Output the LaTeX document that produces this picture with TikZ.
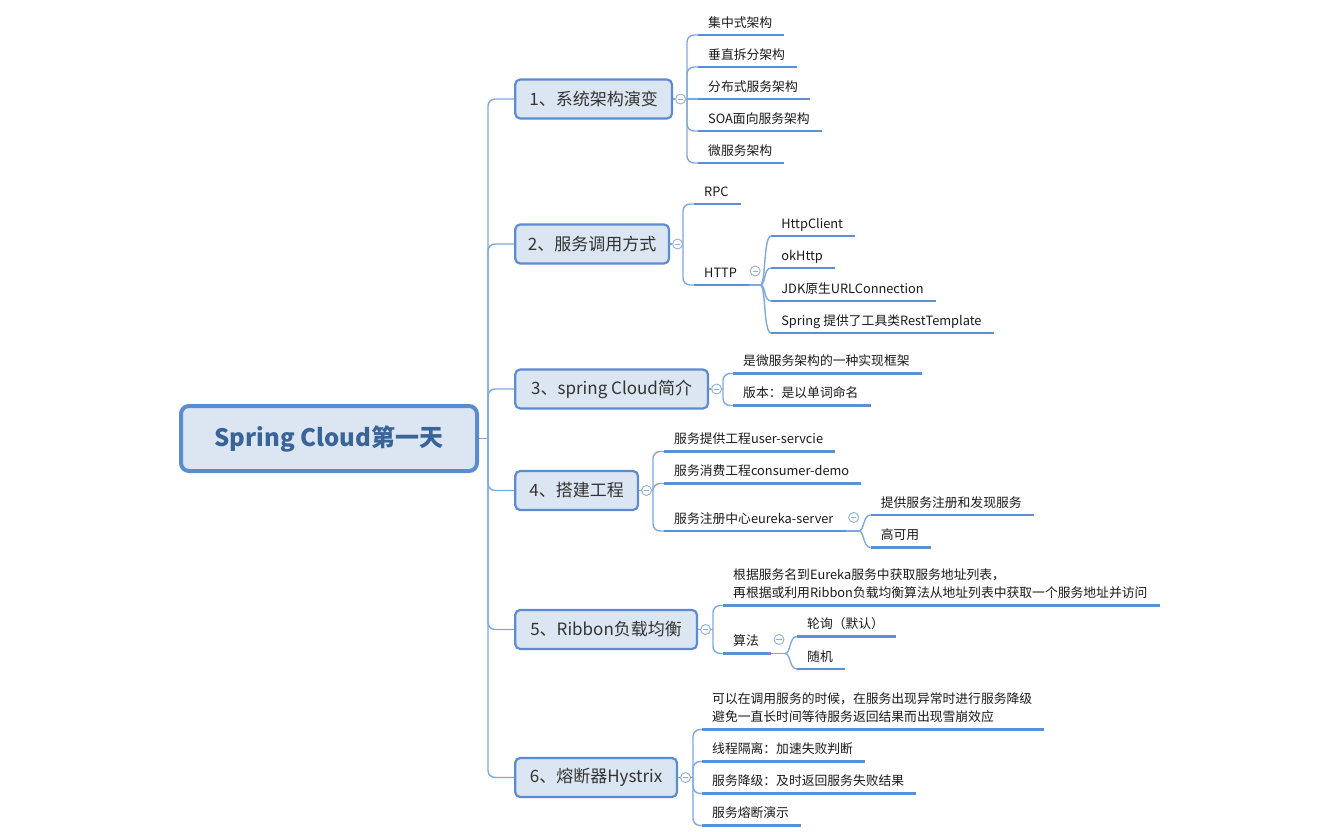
\documentclass[tikz,border=0pt]{standalone}
\usepackage{fontspec}
\setmainfont{Noto Sans CJK SC}
\usetikzlibrary{positioning,calc}

\definecolor{boxline}{HTML}{5B8BD3}
\definecolor{boxfill}{HTML}{DCE6F2}
\definecolor{roottext}{HTML}{3A6397}
\definecolor{topictext}{HTML}{333333}
\definecolor{ulblue}{HTML}{5B8FD6}
\definecolor{connblue}{HTML}{80A8E0}
\definecolor{foldblue}{HTML}{8EAEDC}

\begin{document}
\begin{tikzpicture}[x=1pt,y=-1pt]

    % Styles
    \tikzset{
        root/.style={draw=boxline, line width=4pt, fill=boxfill, rounded corners=8pt,
            minimum width=296pt, minimum height=65pt, inner sep=0pt,
            font=\fontsize{24}{29}\selectfont\bfseries, text=roottext},
        topic/.style={draw=boxline, line width=2.2pt, fill=boxfill, rounded corners=5pt,
            minimum height=39pt, inner sep=0pt, anchor=west,
            font=\fontsize{17}{21}\selectfont, text=topictext},
        uline/.style={draw=ulblue, line width=2.8pt},
        leafbase/.style={anchor=south west, inner xsep=10pt, inner ysep=5.5pt,
            font=\fontsize{12.8}{18}\selectfont, text=black!90,
            append after command={(\tikzlastnode.south west) edge[uline] ([xshift=2pt]\tikzlastnode.south east)}},
        leaf/.style={leafbase, text height=9pt, text depth=2pt},
        note/.style={leafbase, align=left, text depth=2pt},
        conn/.style={draw=connblue, line width=1.4pt, rounded corners=7pt},
        fold/.style={circle, draw=foldblue, fill=white, line width=0.9pt,
            minimum size=10pt, inner sep=0pt,
            path picture={\draw[foldblue, line width=0.9pt]
                ([xshift=-2.6pt]path picture bounding box.center) --
                ([xshift=2.6pt]path picture bounding box.center);}}
    }

    \useasboundingbox (0,0) rectangle (1344,832);

    % Root and topics
    \node[root] (sc) at (329,438.5) {Spring Cloud第一天};

    \node[topic, minimum width=156.8pt] (b1) at (514.1,99)    {1、系统架构演变};
    \node[topic, minimum width=153.8pt] (b2) at (514.1,244)   {2、服务调用方式};
    \node[topic, minimum width=192.8pt] (b3) at (514.1,389)   {3、spring Cloud简介};
    \node[topic, minimum width=122.8pt] (b4) at (514.1,490.5) {4、搭建工程};
    \node[topic, minimum width=181.8pt] (b5) at (514.1,629.5) {5、Ribbon负载均衡};
    \node[topic, minimum width=161.8pt] (b6) at (514.1,777.5) {6、熔断器Hystrix};

    % Fold marks
    \node[fold, right=2pt of b1] (m1) {};
    \node[fold, right=2pt of b2] (m2) {};
    \node[fold, right=2pt of b3] (m3) {};
    \node[fold, right=2pt of b4] (m4) {};
    \node[fold, right=2pt of b5] (m5) {};
    \node[fold, right=2pt of b6] (m6) {};

    % Coordinates
    \coordinate (t)  at ($(sc.east)+(9,0)$);   % trunk
    \coordinate (f1) at ($(m1.east)+(1,0)$);
    \coordinate (f2) at ($(m2.east)+(0,0)$);
    \coordinate (f3) at ($(m3.east)+(1,0)$);
    \coordinate (f4) at ($(m4.east)+(1,0)$);
    \coordinate (f5) at ($(m5.east)+(2,0)$);
    \coordinate (f6) at ($(m6.east)+(2,0)$);

    % 1
    \node[leaf] (l11) at ($(f1)+(11,-64)$) {集中式架构};
    \node[leaf] (l12) at ($(f1)+(11,-32)$) {垂直拆分架构};
    \node[leaf] (l13) at ($(f1)+(11,0)$)   {分布式服务架构};
    \node[leaf] (l14) at ($(f1)+(11,32)$)  {SOA面向服务架构};
    \node[leaf] (l15) at ($(f1)+(11,64)$)  {微服务架构};

    % 2
    \node[leaf] (l21) at ($(f2)+(11,-40)$) {RPC};
    \node[leaf] (l22) at ($(f2)+(11,41)$)  {HTTP};
    \node[fold] (mh) at ([xshift=8pt,yshift=14pt]l22.south east) {};
    \coordinate (fh) at ([xshift=13pt]l22.south east);
    \node[leaf] (l221) at ($(fh)+(11,-49)$) {HttpClient};
    \node[leaf] (l222) at ($(fh)+(11,-17)$) {okHttp};
    \node[leaf] (l223) at ($(fh)+(11,16)$)  {JDK原生URLConnection};
    \node[leaf] (l224) at ($(fh)+(11,48)$)  {Spring 提供了工具类RestTemplate};

    % 3
    \node[leaf] (l31) at ($(f3)+(10,-15.5)$) {是微服务架构的一种实现框架};
    \node[leaf] (l32) at ($(f3)+(10,16.5)$)  {版本：是以单词命名};

    % 4
    \node[leaf] (l41) at ($(f4)+(11,-39)$) {服务提供工程user-servcie};
    \node[leaf] (l42) at ($(f4)+(11,-7)$)  {服务消费工程consumer-demo};
    \node[leaf] (l43) at ($(f4)+(11,40.5)$) {服务注册中心eureka-server};
    \node[fold] (me) at ([xshift=10pt,yshift=13.5pt]l43.south east) {};
    \coordinate (fe) at ([xshift=15pt]l43.south east);
    \node[leaf] (l431) at ($(fe)+(12,-16)$) {提供服务注册和发现服务};
    \node[leaf] (l432) at ($(fe)+(12,16.5)$) {高可用};

    % 5
    \node[note] (l51) at ($(f5)+(10,-24)$) {根据服务名到Eureka服务中获取服务地址列表，\\再根据或利用Ribbon负载均衡算法从地址列表中获取一个服务地址并访问};
    \node[leaf] (l52) at ($(f5)+(10,24)$) {算法};
    \node[fold] (ma) at ([xshift=10pt,yshift=14pt]l52.south east) {};
    \coordinate (fa) at ([xshift=16pt]l52.south east);
    \node[leaf] (l521) at ($(fa)+(12,-17)$) {轮询（默认）};
    \node[leaf] (l522) at ($(fa)+(12,15.5)$) {随机};

    % 6
    \node[note] (l61) at ($(f6)+(9,-48)$) {可以在调用服务的时候，在服务出现异常时进行服务降级\\避免一直长时间等待服务返回结果而出现雪崩效应};
    \node[leaf] (l62) at ($(f6)+(9,-16)$) {线程隔离：加速失败判断};
    \node[leaf] (l63) at ($(f6)+(9,16)$)  {服务降级：及时返回服务失败结果};
    \node[leaf] (l64) at ($(f6)+(9,48)$)  {服务熔断演示};

    % Trunk
    \draw[conn] (sc.east) -- (t);
    \draw[conn] (t) |- (b1.west);
    \draw[conn] (t) |- (b2.west);
    \draw[conn] (t) |- (b3.west);
    \draw[conn] (t) |- (b4.west);
    \draw[conn] (t) |- (b5.west);
    \draw[conn] (t) |- (b6.west);

    % Topic to fold
    \draw[conn] (b1.east) -- (m1.west);
    \draw[conn] (b2.east) -- (m2.west);
    \draw[conn] (b3.east) -- (m3.west);
    \draw[conn] (b4.east) -- (m4.west);
    \draw[conn] (b5.east) -- (m5.west);
    \draw[conn] (b6.east) -- (m6.west);

    % Forks
    \draw[conn] (m1.east) -- (f1);
    \draw[conn] (f1) |- (l11.south west);
    \draw[conn] (f1) |- (l12.south west);
    \draw[conn] (f1) -- (l13.south west);
    \draw[conn] (f1) |- (l14.south west);
    \draw[conn] (f1) |- (l15.south west);

    \draw[conn] (m2.east) -- (f2);
    \draw[conn] (f2) |- (l21.south west);
    \draw[conn] (f2) |- (l22.south west);
    \draw[conn] ([xshift=2pt]l22.south east) -- (fh);
    \draw[conn] (fh) .. controls +(6,0) and +(-8,0) .. (l221.south west);
    \draw[conn] (fh) .. controls +(6,0) and +(-8,0) .. (l222.south west);
    \draw[conn] (fh) .. controls +(6,0) and +(-8,0) .. (l223.south west);
    \draw[conn] (fh) .. controls +(6,0) and +(-8,0) .. (l224.south west);

    \draw[conn] (m3.east) -- (f3);
    \draw[conn] (f3) |- (l31.south west);
    \draw[conn] (f3) |- (l32.south west);

    \draw[conn] (m4.east) -- (f4);
    \draw[conn] (f4) |- (l41.south west);
    \draw[conn] (f4) |- (l42.south west);
    \draw[conn] (f4) |- (l43.south west);
    \draw[conn] ([xshift=2pt]l43.south east) -- (fe);
    \draw[conn] (fe) .. controls +(6,0) and +(-8,0) .. (l431.south west);
    \draw[conn] (fe) .. controls +(6,0) and +(-8,0) .. (l432.south west);

    \draw[conn] (m5.east) -- (f5);
    \draw[conn] (f5) |- (l51.south west);
    \draw[conn] (f5) |- (l52.south west);
    \draw[conn] ([xshift=2pt]l52.south east) -- (fa);
    \draw[conn] (fa) .. controls +(6,0) and +(-8,0) .. (l521.south west);
    \draw[conn] (fa) .. controls +(6,0) and +(-8,0) .. (l522.south west);

    \draw[conn] (m6.east) -- (f6);
    \draw[conn] (f6) |- (l61.south west);
    \draw[conn] (f6) |- (l62.south west);
    \draw[conn] (f6) |- (l63.south west);
    \draw[conn] (f6) |- (l64.south west);

\end{tikzpicture}
\end{document}
